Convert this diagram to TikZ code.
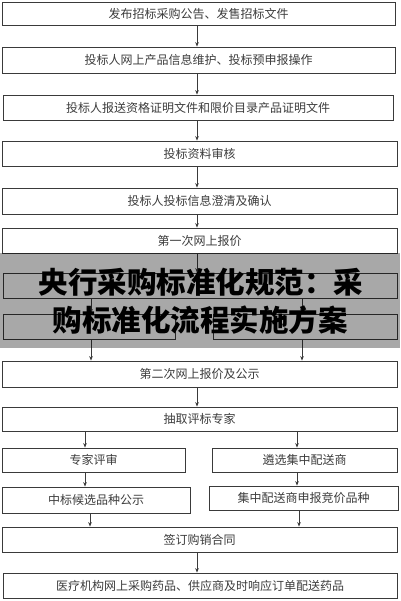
\documentclass[tikz,border=0pt]{standalone}
\usepackage{fontspec}
\setmainfont{Noto Sans CJK SC}
\usetikzlibrary{arrows.meta}
\definecolor{linec}{HTML}{3A3A3A}
\definecolor{txtc}{HTML}{3C3C3C}
\begin{document}
\begin{tikzpicture}[x=1pt,y=-1pt,
  box/.style={draw=linec, line width=0.8pt, text=txtc, font=\fontsize{12}{12}\selectfont, inner sep=0pt, anchor=center},
  arr/.style={draw=linec, line width=0.8pt, -{Stealth[length=4.5pt,width=3.6pt]}},
  title/.style={text=black, font=\fontsize{29.5}{30}\selectfont\bfseries, inner sep=0pt}]
\useasboundingbox (0,0) rectangle (400,601);
\fill[white] (0,0) rectangle (400,601);
% boxes
\node[box, minimum width=393pt, minimum height=23pt] (b1) at (198.5,13.5) {发布招标采购公告、发售招标文件};
\node[box, minimum width=393pt, minimum height=26pt] (b2) at (198.5,60) {投标人网上产品信息维护、投标预申报操作};
\node[box, minimum width=390pt, minimum height=25pt] (b3) at (198,107.5) {投标人报送资格证明文件和限价目录产品证明文件};
\node[box, minimum width=395pt, minimum height=25pt] (b4) at (199.5,153.5) {投标资料审核};
\node[box, minimum width=395pt, minimum height=26pt] (b5) at (199.5,201) {投标人投标信息澄清及确认};
\node[box, minimum width=395pt, minimum height=25pt] (b6) at (199.5,240.5) {第一次网上报价};
\node[box, minimum width=394pt, minimum height=25pt] (h1) at (200,285.5) {};
\node[box, minimum width=172pt, minimum height=25pt] (h2l) at (89,326.5) {};
\node[box, minimum width=184pt, minimum height=25pt] (h2r) at (305,326.5) {};
\node[box, minimum width=395pt, minimum height=26pt] (b7) at (199.5,374) {第二次网上报价及公示};
\node[box, minimum width=395pt, minimum height=24pt] (b8) at (199.5,419) {抽取评标专家};
\node[box, minimum width=183pt, minimum height=24pt] (b9l) at (93.5,460) {专家评审};
\node[box, minimum width=185pt, minimum height=24pt] (b9r) at (304.5,460) {遴选集中配送商};
\node[box, minimum width=188pt, minimum height=26pt] (b10l) at (96,500) {中标候选品种公示};
\node[box, minimum width=189pt, minimum height=24pt] (b10r) at (303.5,498) {集中配送商申报竞价品种};
\node[box, minimum width=395pt, minimum height=25pt] (b11) at (199.5,539.5) {签订购销合同};
\node[box, minimum width=394pt, minimum height=25pt] (b12) at (200,585.5) {医疗机构网上采购药品、供应商及时响应订单配送药品};
% x positions of connectors
\coordinate (xc) at (197,0);
\coordinate (xa) at (91,0);
\coordinate (xb) at (302,0);
\coordinate (xd) at (85,0);
\coordinate (xe) at (297,0);
\coordinate (xf) at (90,0);
\coordinate (xg) at (299,0);
% connectors
\draw[arr] (b1.south -| xc) -- (b2.north -| xc);
\draw[arr] (b2.south -| xc) -- (b3.north -| xc);
\draw[arr] (b3.south -| xc) -- (b4.north -| xc);
\draw[arr] (b4.south -| xc) -- (b5.north -| xc);
\draw[arr] (b5.south -| xc) -- (b6.north -| xc);
\draw[arr] (b6.south -| xc) -- (h1.north -| xc);
\draw[arr] (h1.south -| xa) -- (h2l.north -| xa);
\draw[arr] (h1.south -| xb) -- (h2r.north -| xb);
\draw[arr] (h2l.south -| xa) -- (b7.north -| xa);
\draw[arr] (h2r.south -| xb) -- (b7.north -| xb);
\draw[arr] (b7.south -| xc) -- (b8.north -| xc);
\draw[arr] (b8.south -| xd) -- (b9l.north -| xd);
\draw[arr] (b8.south -| xe) -- (b9r.north -| xe);
\draw[arr] (b9l.south -| xd) -- (b10l.north -| xd);
\draw[arr] (b9r.south -| xe) -- (b10r.north -| xe);
\draw[arr] (b10l.south -| xf) -- (b11.north -| xf);
\draw[arr] (b10r.south -| xg) -- (b11.north -| xg);
\draw[arr] (b11.south -| xc) -- (b12.north -| xc);
% overlay band and title
\fill[black, fill opacity=0.34] (0,253) rectangle (400,348);
\node[title] (t1) at (201,282) {央行采购标准化规范：采};
\node[title] (t2) at (200,320) {购标准化流程实施方案};
\end{tikzpicture}
\end{document}
